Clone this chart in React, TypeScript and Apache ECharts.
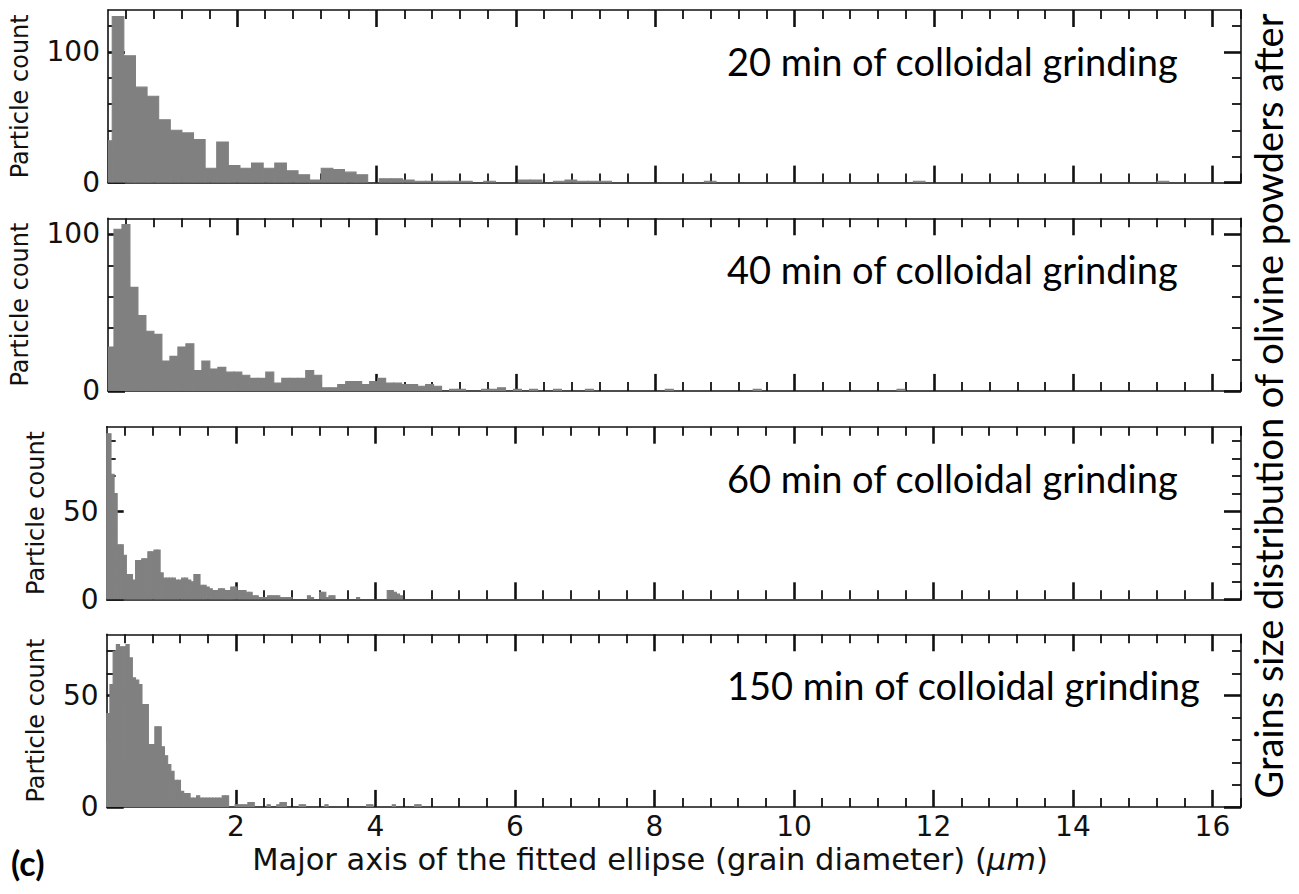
import React, { useEffect, useRef } from "react";
import * as echarts from "echarts";

// ---------------- data ----------------
const panelTitles = [
  "20 min of colloidal grinding",
  "40 min of colloidal grinding",
  "60 min of colloidal grinding",
  "150 min of colloidal grinding",
];

// histogram bin geometry (start of first bin, bin width) in µm
const binStart = [0.04, 0.117, 0.12, 0.1];
const binWidth = [0.16667, 0.1147, 0.044, 0.046];

const counts20 = [
  32, 127, 97, 73, 66, 48, 40, 38, 33, 11, 31, 13, 11, 15, 11, 15, 9, 6, 2, 11,
  10, 8, 6, 0, 3, 3, 2, 1, 1, 1, 1, 1, 0, 1, 0, 0, 2, 2, 0, 1,
  2, 1, 1, 1, 0, 0, 0, 0, 0, 0, 0, 0, 1, 0, 0, 0, 0, 0, 0, 0,
  0, 0, 0, 0, 0, 0, 0, 0, 0, 0, 1, 0, 0, 0, 0, 0, 0, 0, 0, 0,
  0, 0, 0, 0, 0, 0, 0, 0, 0, 0, 0, 1, 0, 0, 0, 0, 0, 0, 0,
];
const counts40 = [
  28, 103, 106, 66, 48, 38, 36, 19, 22, 28, 30, 13, 19, 14, 15, 12, 12, 10, 8, 8,
  12, 5, 8, 8, 8, 13, 10, 2, 2, 4, 6, 6, 4, 6, 8, 5, 5, 4, 4, 3,
  4, 3, 0, 1, 1, 0, 0, 1, 1, 2, 0, 1, 0, 1, 0, 0, 1, 0, 0, 0,
  1, 0, 0, 0, 0, 0, 0, 0, 0, 0, 1, 0, 0, 0, 0, 0, 0, 0, 0, 0,
  0, 1, 0, 0, 0, 0, 0, 0, 0, 0, 0, 0, 0, 0, 0, 0, 0, 0, 0, 1,
];
const counts60 = [
  94, 94, 71, 60, 31, 31, 25, 14, 14, 11, 22, 22, 23, 23, 27, 27, 28, 28, 15, 12,
  12, 12, 12, 11, 11, 12, 12, 11, 10, 14, 14, 8, 8, 7, 6, 5, 5, 6, 6, 5,
  5, 7, 7, 5, 5, 5, 4, 4, 2, 2, 1, 1, 1, 2, 2, 2, 2, 1, 1, 1,
  1, 0, 0, 0, 0, 0, 2, 1, 0, 0, 4, 4, 1, 2, 2, 0, 0, 0, 0, 0,
  0, 0, 1, 0, 0, 0, 0, 0, 0, 0, 0, 0, 5, 5, 4, 3, 2, 0,
];
const counts150 = [
  30, 42, 55, 70, 73, 72, 72, 73, 67, 58, 57, 55, 46, 46, 28, 28, 36, 36, 27, 23,
  19, 16, 12, 12, 7, 6, 6, 4, 4, 5, 4, 4, 4, 4, 4, 4, 4, 5, 5, 0,
  0, 1, 1, 1, 1, 2, 2, 0, 0, 0, 0, 1, 0, 0, 1, 2, 2, 0, 0, 0,
  0, 1, 1, 0, 0, 0, 0, 0, 0, 1, 0, 0, 0, 0, 0, 0, 0, 0, 0, 0,
  0, 0, 1, 1, 0, 0, 0, 0, 0, 0, 1, 0, 0, 0, 0, 0, 0, 1, 1, 0,
];
const allCounts = [counts20, counts40, counts60, counts150];

// axes
const xMin = 0.146;
const xMax = 16.41;
const xMajorTicks = [2, 4, 6, 8, 10, 12, 14, 16];
const xMinorTicks = [
  0.4, 0.8, 1.2, 1.6, 2.4, 2.8, 3.2, 3.6, 4.4, 4.8, 5.2, 5.6, 6.4, 6.8, 7.2, 7.6,
  8.4, 8.8, 9.2, 9.6, 10.4, 10.8, 11.2, 11.6, 12.4, 12.8, 13.2, 13.6, 14.4, 14.8,
  15.2, 15.6, 16.4,
];
const yMax = [132, 110, 98, 77.6];
const yMajorTicks = [[0, 100], [0, 100], [0, 50], [0, 50]];
const yMinorTicks = [
  [20, 40, 60, 80, 120],
  [20, 40, 60, 80],
  [10, 20, 30, 40, 60, 70, 80, 90],
  [10, 20, 30, 40, 60, 70],
];

const xAxisTitle = "Major axis of the fitted ellipse (grain diameter) (";
const xAxisUnit = "μm";
const yAxisTitle = "Particle count";
const sideTitle = "Grains size distribution of olivine powders after";
const panelTag = "(c)";

// ---------------- layout ----------------
const GRID_LEFT = 106.7;
const GRID_WIDTH = 1134.3;
const GRID_HEIGHT = 172.6;
const GRID_TOPS = [10, 218.3, 426.7, 634.3];
const NAME_GAPS = [76, 76, 59, 59];

const AXIS_COLOR = "#111111";
const BAR_COLOR = "#808080";
const TICK_FONT = "DejaVu Sans";

function buildOption() {
  const grid: any[] = [];
  const xAxis: any[] = [];
  const yAxis: any[] = [];
  const series: any[] = [];
  const graphic: any[] = [];

  const line = (show: boolean) => ({
    show,
    onZero: false,
    lineStyle: { color: AXIS_COLOR, width: 1.6 },
  });
  const ticks = (values: number[], major: boolean) => ({
    show: true,
    inside: true,
    length: major ? 17 : 9,
    customValues: values,
    lineStyle: { color: AXIS_COLOR, width: major ? 2.6 : 1.8 },
  });

  for (let g = 0; g < 4; g++) {
    grid.push({
      left: GRID_LEFT,
      top: GRID_TOPS[g],
      width: GRID_WIDTH,
      height: GRID_HEIGHT,
      containLabel: false,
    });
    const isLast = g === 3;
    const xBase = {
      type: "value",
      gridIndex: g,
      min: xMin,
      max: xMax,
      splitLine: { show: false },
    };
    xAxis.push({
      ...xBase,
      position: "bottom",
      axisLine: line(true),
      axisTick: ticks(xMajorTicks, true),
      axisLabel: isLast
        ? {
            show: true,
            customValues: xMajorTicks,
            fontSize: 28,
            fontFamily: TICK_FONT,
            color: "#111",
            margin: 6,
          }
        : { show: false },
    });
    xAxis.push({
      ...xBase,
      position: "bottom",
      axisLine: line(false),
      axisTick: ticks(xMinorTicks, false),
      axisLabel: { show: false },
    });
    xAxis.push({
      ...xBase,
      position: "top",
      axisLine: line(true),
      axisTick: ticks(xMajorTicks, true),
      axisLabel: { show: false },
    });
    xAxis.push({
      ...xBase,
      position: "top",
      axisLine: line(false),
      axisTick: ticks(xMinorTicks, false),
      axisLabel: { show: false },
    });

    const yBase = {
      type: "value",
      gridIndex: g,
      min: 0,
      max: yMax[g],
      splitLine: { show: false },
    };
    yAxis.push({
      ...yBase,
      position: "left",
      name: yAxisTitle,
      nameLocation: "middle",
      nameRotate: 90,
      nameGap: NAME_GAPS[g],
      nameTextStyle: { fontSize: 24, fontFamily: TICK_FONT, color: "#111" },
      axisLine: line(true),
      axisTick: ticks(yMajorTicks[g], true),
      axisLabel: {
        show: true,
        customValues: yMajorTicks[g],
        fontSize: 28,
        fontFamily: TICK_FONT,
        color: "#111",
        margin: 8,
      },
    });
    yAxis.push({
      ...yBase,
      position: "left",
      axisLine: line(false),
      axisTick: ticks(yMinorTicks[g], false),
      axisLabel: { show: false },
    });
    yAxis.push({
      ...yBase,
      position: "right",
      axisLine: line(true),
      axisTick: ticks(yMajorTicks[g], true),
      axisLabel: { show: false },
    });
    yAxis.push({
      ...yBase,
      position: "right",
      axisLine: line(false),
      axisTick: ticks(yMinorTicks[g], false),
      axisLabel: { show: false },
    });

    const data = allCounts[g].map((c, i) => [
      binStart[g] + i * binWidth[g],
      binStart[g] + (i + 1) * binWidth[g],
      c,
    ]);

    series.push({
      type: "custom",
      xAxisIndex: g * 4,
      yAxisIndex: g * 4,
      clip: true,
      z: 1,
      encode: { x: [0, 1], y: 2 },
      data,
      renderItem: (params: any, api: any) => {
        const c = api.value(2);
        if (!c) return null;
        const p0 = api.coord([api.value(0), c]);
        const p1 = api.coord([api.value(1), 0]);
        const cs = params.coordSys;
        const shape = echarts.graphic.clipRectByRect(
          { x: p0[0], y: p0[1], width: p1[0] - p0[0], height: p1[1] - p0[1] },
          { x: cs.x, y: cs.y, width: cs.width, height: cs.height }
        );
        if (!shape) return null;
        return {
          type: "rect",
          shape,
          style: { fill: BAR_COLOR, stroke: BAR_COLOR, lineWidth: 1.1 },
        };
      },
    });

    graphic.push({
      type: "text",
      x: 727,
      y: GRID_TOPS[g] + 51,
      style: {
        text: panelTitles[g],
        fontFamily: "Lato",
        fontSize: 38,
        fill: "#000",
        textAlign: "left",
        textVerticalAlign: "middle",
      },
    });
  }

  graphic.push({
    type: "text",
    x: 650,
    y: 859,
    style: {
      text: `{n|${xAxisTitle}}{i|${xAxisUnit}}{n|)}`,
      textAlign: "center",
      textVerticalAlign: "middle",
      rich: {
        n: { fontFamily: TICK_FONT, fontSize: 30.5, fill: "#111" },
        i: { fontFamily: TICK_FONT, fontSize: 30.5, fontStyle: "italic", fill: "#111" },
      },
    },
  });
  graphic.push({
    type: "text",
    x: 1268,
    y: 406,
    rotation: Math.PI / 2,
    style: {
      text: sideTitle,
      fontFamily: "Lato",
      fontSize: 38,
      fill: "#000",
      textAlign: "center",
      textVerticalAlign: "middle",
    },
  });
  graphic.push({
    type: "text",
    x: 11,
    y: 862,
    style: {
      text: panelTag,
      fontFamily: "Lato",
      fontWeight: "bold",
      fontSize: 34,
      fill: "#000",
      textAlign: "left",
      textVerticalAlign: "middle",
    },
  });

  return {
    animation: false,
    backgroundColor: "#ffffff",
    grid,
    xAxis,
    yAxis,
    series,
    graphic,
  };
}

export default function App() {
  const ref = useRef<HTMLDivElement>(null);
  useEffect(() => {
    if (!ref.current) return;
    const chart = echarts.init(ref.current, null, { renderer: "svg" });
    chart.setOption(buildOption() as any);
    return () => chart.dispose();
  }, []);
  return (
    <div
      ref={ref}
      style={{ position: "absolute", left: 0, top: 0, width: 1299, height: 894 }}
    />
  );
}
